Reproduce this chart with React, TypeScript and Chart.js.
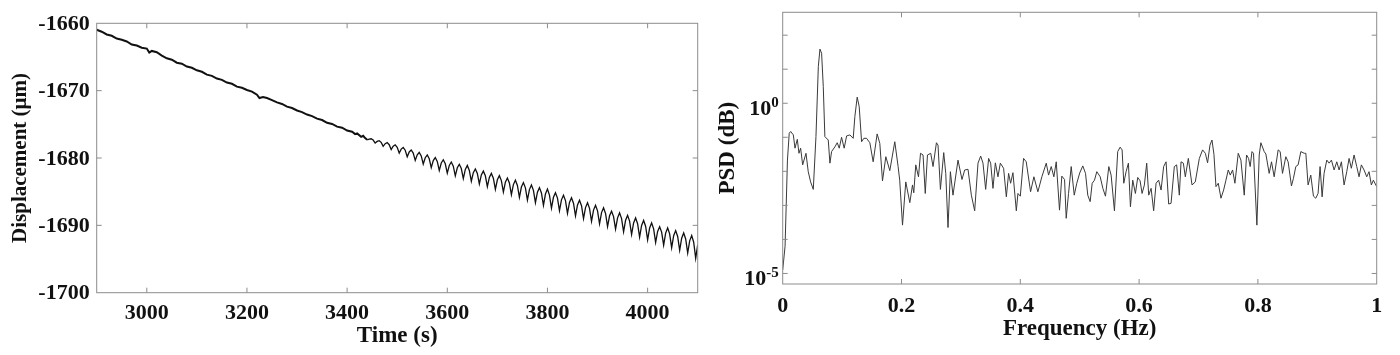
import React, { useEffect, useRef } from "react";
import { Chart, registerables } from "chart.js";

Chart.register(...registerables);

// ---------- Left panel: displacement vs time ----------
const driftTimeS = [
  2900, 2910, 2920, 2930, 2940, 2950, 2960, 2970, 2980, 2990,
  3000, 3005, 3010, 3020, 3030, 3040, 3050, 3060, 3070, 3080,
  3090, 3100, 3110, 3120, 3130, 3140, 3150, 3160, 3170, 3180,
  3190, 3200, 3210, 3220, 3225, 3232, 3240, 3250, 3260, 3270,
  3280, 3290, 3300, 3310, 3320, 3330, 3340, 3350, 3360, 3370,
  3380, 3390, 3400, 3410, 3416, 3420, 3428, 3432, 3436,
];
const driftUm = [
  -1660.95, -1661.25, -1661.66, -1661.85, -1662.27, -1662.44, -1662.7, -1663.15, -1663.3, -1663.62,
  -1663.75, -1664.35, -1664.1, -1664.3, -1664.8, -1665.2, -1665.4, -1665.85, -1666.0, -1666.42,
  -1666.6, -1666.98, -1667.2, -1667.62, -1667.8, -1668.2, -1668.4, -1668.8, -1668.98, -1669.4,
  -1669.58, -1669.9, -1670.15, -1670.6, -1671.1, -1670.95, -1671.1, -1671.4, -1671.75, -1671.98,
  -1672.38, -1672.58, -1672.95, -1673.18, -1673.55, -1673.78, -1674.15, -1674.36, -1674.78, -1674.95,
  -1675.34, -1675.5, -1675.92, -1676.1, -1676.45, -1676.35, -1676.85, -1676.7, -1677.05,
];
const oscTimeS = [
  3440, 3444, 3448, 3452, 3456, 3460, 3464, 3468, 3472, 3476,
  3480, 3484, 3488, 3492, 3496, 3500, 3504, 3508, 3512, 3516,
  3520, 3524, 3528, 3532, 3536, 3540, 3544, 3548, 3552, 3556,
  3560, 3564, 3568, 3572, 3576, 3580, 3584, 3588, 3592, 3596,
  3600, 3604, 3608, 3612, 3616, 3620, 3624, 3628, 3632, 3636,
  3640, 3644, 3648, 3652, 3656, 3660, 3664, 3668, 3672, 3676,
  3680, 3684, 3688, 3692, 3696, 3700, 3704, 3708, 3712, 3716,
  3720, 3724, 3728, 3732, 3736, 3740, 3744, 3748, 3752, 3756,
  3760, 3764, 3768, 3772, 3776, 3780, 3784, 3788, 3792, 3796,
  3800, 3804, 3808, 3812, 3816, 3820, 3824, 3828, 3832, 3836,
  3840, 3844, 3848, 3852, 3856, 3860, 3864, 3868, 3872, 3876,
  3880, 3884, 3888, 3892, 3896, 3900, 3904, 3908, 3912, 3916,
  3920, 3924, 3928, 3932, 3936, 3940, 3944, 3948, 3952, 3956,
  3960, 3964, 3968, 3972, 3976, 3980, 3984, 3988, 3992, 3996,
  4000, 4004, 4008, 4012, 4016, 4020, 4024, 4028, 4032, 4036,
  4040, 4044, 4048, 4052, 4056, 4060, 4064, 4068, 4072, 4076,
  4080, 4084, 4088, 4092, 4096, 4100,
];
const oscUm = [
  -1677.3, -1677.19, -1677.14, -1677.33,
  -1677.78, -1677.54, -1677.43, -1677.68,
  -1678.26, -1677.88, -1677.72, -1678.03,
  -1678.74, -1678.25, -1678.04, -1678.41,
  -1679.27, -1678.68, -1678.42, -1678.84,
  -1679.81, -1679.1, -1678.8, -1679.27,
  -1680.35, -1679.53, -1679.18, -1679.69,
  -1680.89, -1679.96, -1679.56, -1680.12,
  -1681.43, -1680.38, -1679.93, -1680.51,
  -1681.85, -1680.74, -1680.26, -1680.86,
  -1682.25, -1681.1, -1680.6, -1681.22,
  -1682.65, -1681.45, -1680.94, -1681.57,
  -1683.05, -1681.7, -1681.1, -1681.85,
  -1683.45, -1682.17, -1681.62, -1682.29,
  -1683.85, -1682.52, -1681.95, -1682.64,
  -1684.25, -1682.88, -1682.29, -1683.0,
  -1684.65, -1683.24, -1682.63, -1683.36,
  -1685.05, -1683.59, -1682.97, -1683.71,
  -1685.45, -1683.95, -1683.3, -1684.07,
  -1685.85, -1684.31, -1683.65, -1684.43,
  -1686.25, -1684.69, -1684.02, -1684.81,
  -1686.64, -1685.07, -1684.4, -1685.19,
  -1687.03, -1685.35, -1684.62, -1685.5,
  -1687.43, -1685.83, -1685.15, -1685.95,
  -1687.82, -1686.21, -1685.52, -1686.33,
  -1688.21, -1686.59, -1685.9, -1686.71,
  -1688.6, -1686.97, -1686.27, -1687.09,
  -1689.0, -1687.36, -1686.65, -1687.47,
  -1689.39, -1687.73, -1687.02, -1687.85,
  -1689.78, -1688.11, -1687.4, -1688.23,
  -1690.18, -1688.58, -1687.9, -1688.7,
  -1690.57, -1688.88, -1688.15, -1688.99,
  -1690.96, -1689.25, -1688.52, -1689.37,
  -1691.36, -1689.64, -1688.9, -1689.76,
  -1691.75, -1690.01, -1689.27, -1690.13,
  -1692.14, -1690.4, -1689.65, -1690.52,
  -1692.54, -1690.9, -1690.2, -1691.0,
  -1692.93, -1691.15, -1690.39, -1691.27,
  -1693.32, -1691.54, -1690.77, -1691.65,
  -1693.71, -1691.91, -1691.14, -1692.03,
  -1694.11, -1692.3, -1691.52, -1692.5,
  -1694.9, -1692.9,
];
const timeTicks = [3000, 3200, 3400, 3600, 3800, 4000];
const displacementTicks = [-1700, -1690, -1680, -1670, -1660];

// ---------- Right panel: PSD vs frequency ----------
const freqHz = [
  0, 0.004, 0.008, 0.011, 0.0134, 0.0179, 0.0207, 0.0246, 0.0274, 0.0302,
  0.0336, 0.0392, 0.043, 0.047, 0.0515, 0.056, 0.06, 0.0627, 0.0655, 0.0683,
  0.071, 0.0767, 0.0795, 0.0823, 0.0879, 0.0918, 0.0952, 0.0991, 0.1035, 0.1076,
  0.1131, 0.1187, 0.1215, 0.1254, 0.1288, 0.1328, 0.1366, 0.1412, 0.1467, 0.1523,
  0.159, 0.1635, 0.168, 0.1736, 0.1803, 0.1887, 0.1943, 0.197, 0.2017, 0.2072,
  0.214, 0.2185, 0.2207, 0.224, 0.2286, 0.232, 0.2363, 0.24, 0.2437, 0.2492,
  0.2531, 0.2588, 0.2615, 0.2655, 0.2711, 0.2745, 0.2783, 0.2823, 0.2867, 0.2951,
  0.3018, 0.3064, 0.312, 0.3176, 0.3232, 0.3288, 0.3333, 0.3372, 0.3417, 0.3467,
  0.3501, 0.354, 0.358, 0.3624, 0.3664, 0.3719, 0.3765, 0.3803, 0.3837, 0.3876,
  0.3933, 0.396, 0.4, 0.4055, 0.41, 0.4173, 0.4229, 0.4296, 0.4363, 0.4437,
  0.4476, 0.4521, 0.4565, 0.4605, 0.466, 0.4699, 0.4745, 0.4773, 0.4812, 0.4857,
  0.4908, 0.4951, 0.5, 0.5052, 0.5098, 0.5136, 0.5176, 0.521, 0.5249, 0.5288,
  0.5345, 0.539, 0.5434, 0.549, 0.5529, 0.5585, 0.564, 0.5681, 0.5714, 0.5742,
  0.5781, 0.582, 0.5854, 0.5893, 0.5938, 0.5977, 0.6017, 0.605, 0.6089, 0.6128,
  0.6162, 0.6202, 0.6245, 0.6286, 0.6329, 0.637, 0.6413, 0.6454, 0.6498, 0.6538,
  0.6593, 0.6632, 0.6677, 0.6706, 0.6745, 0.6778, 0.6829, 0.6891, 0.6946, 0.7014,
  0.7069, 0.7115, 0.7153, 0.7193, 0.7227, 0.726, 0.7294, 0.7333, 0.7378, 0.7423,
  0.7462, 0.7501, 0.7535, 0.7574, 0.7613, 0.7669, 0.7714, 0.777, 0.7809, 0.7843,
  0.787, 0.79, 0.7926, 0.7983, 0.8022, 0.805, 0.8106, 0.8134, 0.819, 0.8229,
  0.8274, 0.8341, 0.8375, 0.8414, 0.847, 0.8509, 0.8565, 0.8598, 0.8638, 0.8677,
  0.8723, 0.8779, 0.8807, 0.8845, 0.889, 0.8935, 0.8974, 0.9013, 0.9047, 0.9081,
  0.9114, 0.916, 0.9199, 0.9238, 0.9283, 0.9328, 0.9367, 0.9406, 0.9451, 0.9496,
  0.9535, 0.9573, 0.9619, 0.9664, 0.9703, 0.9742, 0.9787, 0.9832, 0.9871, 0.991,
  0.9944, 1.0,
];
// log10 of the PSD
const psdLog10 = [
  -4.9, -4.2, -1.67, -0.88, -0.83, -0.93, -1.32, -1.06, -1.47, -1.32,
  -1.81, -1.47, -2.01, -2.31, -2.53, -0.98, 1.08, 1.59, 1.47, 0.49,
  -0.98, -1.08, -1.76, -1.42, -1.28, -1.16, -1.32, -1.0, -1.32, -0.96,
  -0.93, -1.03, -0.39, 0.18, -0.1, -1.13, -1.03, -1.03, -1.16, -1.72,
  -0.9, -1.18, -2.28, -1.57, -1.98, -1.13, -1.86, -2.26, -3.58, -2.31,
  -2.92, -2.4, -2.63, -1.81, -2.16, -1.47, -1.52, -2.65, -1.52, -1.47,
  -1.86, -1.16, -1.23, -2.53, -1.45, -2.06, -3.65, -2.01, -2.7, -1.67,
  -2.24, -1.96, -1.94, -2.7, -3.16, -1.76, -1.55, -1.76, -2.53, -1.62,
  -1.76, -2.5, -1.75, -2.16, -1.76, -1.91, -2.75, -2.06, -2.35, -2.04,
  -3.16, -2.65, -2.73, -1.62, -1.72, -2.6, -2.16, -2.6, -2.16, -1.76,
  -2.11, -1.86, -2.16, -1.72, -3.14, -2.14, -2.24, -3.38, -2.65, -1.86,
  -2.7, -2.35, -2.05, -1.84, -2.06, -2.7, -2.89, -2.35, -2.26, -2.01,
  -2.16, -2.5, -2.73, -1.86, -2.11, -3.16, -1.42, -1.29, -1.37, -2.35,
  -2.01, -1.76, -3.04, -2.26, -2.65, -2.18, -2.28, -2.65, -2.4, -1.76,
  -2.7, -2.5, -3.16, -2.35, -2.26, -2.55, -1.86, -1.72, -2.96, -2.94,
  -1.86, -1.81, -2.7, -1.72, -1.76, -2.16, -1.62, -2.4, -2.31, -1.62,
  -1.37, -1.47, -1.75, -1.23, -1.08, -1.5, -2.45, -2.35, -2.79, -2.55,
  -2.26, -1.96, -2.11, -1.96, -2.35, -1.47, -1.67, -2.7, -1.52, -1.62,
  -1.86, -1.42, -1.47, -3.58, -1.52, -1.16, -1.42, -1.49, -2.06, -1.72,
  -2.16, -1.37, -1.42, -2.06, -1.57, -1.72, -2.43, -2.21, -1.86, -1.81,
  -1.42, -1.47, -1.47, -2.4, -2.11, -2.73, -2.79, -2.65, -1.86, -2.75,
  -2.06, -1.67, -1.76, -1.67, -1.96, -1.72, -1.96, -1.72, -2.4, -2.01,
  -1.62, -1.91, -1.52, -1.86, -2.16, -1.81, -1.96, -2.16, -2.01, -2.4,
  -2.26, -2.45,
];
const freqTicks = [0, 0.2, 0.4, 0.6, 0.8, 1];
const psdTickExponents = [-5, -4, -3, -2, -1, 0, 1, 2];
const psdLabelledExponents = [-5, 0];

const SERIF = "'Liberation Serif', 'Times New Roman', Times, serif";

const framePlugin = {
  id: "matlabFrame",
  afterDraw(chart: any) {
    const { ctx, chartArea: a, scales } = chart;
    const xs = scales.x;
    const ys = scales.y;
    const L = 5;
    ctx.save();
    ctx.strokeStyle = "#8c8c8c";
    ctx.lineWidth = 1;
    ctx.strokeRect(a.left, a.top, a.right - a.left, a.bottom - a.top);
    ctx.beginPath();
    for (const t of xs.ticks) {
      const px = xs.getPixelForValue(t.value);
      if (px <= a.left + 1 || px >= a.right - 1) continue;
      ctx.moveTo(px, a.bottom);
      ctx.lineTo(px, a.bottom - L);
      ctx.moveTo(px, a.top);
      ctx.lineTo(px, a.top + L);
    }
    for (const t of ys.ticks) {
      const py = ys.getPixelForValue(t.value);
      if (py <= a.top + 1 || py >= a.bottom - 1) continue;
      ctx.moveTo(a.left, py);
      ctx.lineTo(a.left + L, py);
      ctx.moveTo(a.right, py);
      ctx.lineTo(a.right - L, py);
    }
    ctx.stroke();
    ctx.restore();
  },
};

// Draws the "10^n" labels of the logarithmic axis with a raised exponent.
const powerLabelPlugin = {
  id: "powerLabels",
  afterDraw(chart: any) {
    const { ctx, chartArea: a, scales } = chart;
    const ys = scales.y;
    ctx.save();
    ctx.fillStyle = "#111111";
    ctx.textBaseline = "alphabetic";
    ctx.textAlign = "left";
    for (const e of psdLabelledExponents) {
      const y = ys.getPixelForValue(Math.pow(10, e));
      const exp = String(e);
      ctx.font = `bold 15px ${SERIF}`;
      const wExp = ctx.measureText(exp).width;
      ctx.font = `bold 22px ${SERIF}`;
      const wBase = ctx.measureText("10").width;
      const xRight = a.left - 4;
      const xBase = xRight - wExp - wBase;
      ctx.fillText("10", xBase, y + 11.7);
      ctx.font = `bold 15px ${SERIF}`;
      ctx.fillText(exp, xBase + wBase, y + 3.7);
    }
    ctx.restore();
  },
};

export default function App() {
  const leftRef = useRef<HTMLCanvasElement | null>(null);
  const rightRef = useRef<HTMLCanvasElement | null>(null);

  useEffect(() => {
    const timeS = [...driftTimeS, ...oscTimeS];
    const displacementUm = [...driftUm, ...oscUm];
    const tickFont = { family: SERIF, weight: "bold" as const, size: 22 };

    const left = new Chart(leftRef.current as HTMLCanvasElement, {
      type: "line",
      data: {
        datasets: [
          {
            data: timeS.map((t, i) => ({ x: t, y: displacementUm[i] })),
            borderColor: "#111111",
            borderWidth: 1.3,
            pointRadius: 0,
            tension: 0,
            fill: false,
            segment: {
              borderWidth: (c: any) => (c.p0.parsed.x < 3440 ? 2 : 1.3),
            },
          },
        ],
      },
      options: {
        responsive: false,
        animation: false,
        devicePixelRatio: 1,
        layout: { padding: { top: 23.3, right: 7.3, bottom: 0, left: 0 } },
        plugins: { legend: { display: false }, tooltip: { enabled: false } },
        scales: {
          x: {
            type: "linear",
            min: 2900,
            max: 4100,
            grid: { display: false, drawTicks: false },
            border: { display: false },
            afterBuildTicks: (s: any) => {
              s.ticks = timeTicks.map((v) => ({ value: v }));
            },
            afterFit: (s: any) => {
              s.height = 62.3;
            },
            ticks: {
              callback: (v: any) => String(v),
              font: tickFont,
              color: "#111111",
              padding: 7,
              maxRotation: 0,
              autoSkip: false,
            },
            title: {
              display: true,
              text: "Time (s)",
              font: { family: SERIF, weight: "bold", size: 23 },
              color: "#111111",
              padding: { top: 0, bottom: 5 },
            },
          },
          y: {
            type: "linear",
            min: -1700,
            max: -1660,
            grid: { display: false, drawTicks: false },
            border: { display: false },
            afterBuildTicks: (s: any) => {
              s.ticks = displacementTicks.map((v) => ({ value: v }));
            },
            afterFit: (s: any) => {
              s.width = 96.7;
            },
            ticks: {
              callback: (v: any) => String(v),
              font: tickFont,
              color: "#111111",
              padding: 7,
              labelOffset: 1,
              autoSkip: false,
            },
            title: {
              display: true,
              text: "Displacement (μm)",
              font: { family: SERIF, weight: "bold", size: 21 },
              color: "#111111",
              padding: { top: 7.7, bottom: 0 },
            },
          },
        },
      },
      plugins: [framePlugin],
    } as any);

    const right = new Chart(rightRef.current as HTMLCanvasElement, {
      type: "line",
      data: {
        datasets: [
          {
            data: freqHz.map((f, i) => ({ x: f, y: Math.pow(10, psdLog10[i]) })),
            borderColor: "#3a3a3a",
            borderWidth: 1,
            pointRadius: 0,
            tension: 0,
            fill: false,
          },
        ],
      },
      options: {
        responsive: false,
        animation: false,
        devicePixelRatio: 1,
        layout: { padding: { top: 12.3, right: 23.3, bottom: 0, left: 0 } },
        plugins: { legend: { display: false }, tooltip: { enabled: false } },
        scales: {
          x: {
            type: "linear",
            min: 0,
            max: 1,
            grid: { display: false, drawTicks: false },
            border: { display: false },
            afterBuildTicks: (s: any) => {
              s.ticks = freqTicks.map((v) => ({ value: v }));
            },
            afterFit: (s: any) => {
              s.height = 71;
            },
            ticks: {
              callback: (v: any) => String(v),
              font: tickFont,
              color: "#111111",
              padding: 9,
              maxRotation: 0,
              autoSkip: false,
            },
            title: {
              display: true,
              text: "Frequency (Hz)",
              font: { family: SERIF, weight: "bold", size: 23 },
              color: "#111111",
              padding: { top: 0, bottom: 12.3 },
            },
          },
          y: {
            type: "logarithmic",
            min: 4.9e-6,
            max: 470,
            grid: { display: false, drawTicks: false },
            border: { display: false },
            afterBuildTicks: (s: any) => {
              s.ticks = psdTickExponents.map((e) => ({ value: Math.pow(10, e) }));
            },
            afterFit: (s: any) => {
              s.width = 77.7;
            },
            ticks: {
              callback: () => "",
              font: { family: SERIF, size: 8 },
              autoSkip: false,
            },
            title: {
              display: true,
              text: "PSD (dB)",
              font: { family: SERIF, weight: "bold", size: 23 },
              color: "#111111",
              padding: { top: 9, bottom: 0 },
            },
          },
        },
      },
      plugins: [framePlugin, powerLabelPlugin],
    } as any);

    return () => {
      left.destroy();
      right.destroy();
    };
  }, []);

  return (
    <div style={{ position: "fixed", left: 0, top: 0, width: 1400, height: 355, background: "#ffffff" }}>
      <canvas ref={leftRef} width={705} height={355} style={{ position: "absolute", left: 0, top: 0 }} />
      <canvas ref={rightRef} width={695} height={355} style={{ position: "absolute", left: 705, top: 0 }} />
    </div>
  );
}
